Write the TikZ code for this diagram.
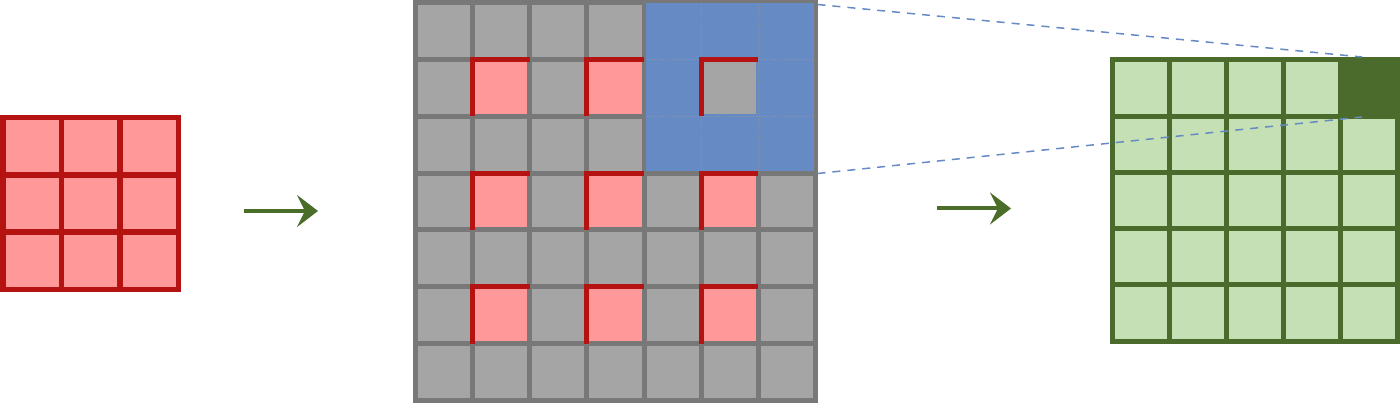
\documentclass[tikz,border=0pt]{standalone}
\usetikzlibrary{arrows.meta}
\definecolor{rbord}{RGB}{181,18,18}
\definecolor{rfill}{RGB}{255,153,153}
\definecolor{gbord}{RGB}{120,120,120}
\definecolor{gfill}{RGB}{165,165,165}
\definecolor{grbord}{RGB}{74,107,43}
\definecolor{grfill}{RGB}{197,224,180}
\definecolor{bfill}{RGB}{101,138,196}
\definecolor{arr}{RGB}{74,110,42}
\begin{document}
\begin{tikzpicture}[x=1pt,y=-1pt,
 cell/.style={draw, line width=5pt, inner sep=0pt, outer sep=0pt, anchor=north west},
 redcell/.style={cell, draw=rbord, fill=rfill, line width=5.5pt, minimum width=58.7pt, minimum height=57.3pt},
 greycell/.style={cell, draw=gbord, fill=gfill, minimum width=57.14pt, minimum height=56.86pt},
 pinkcell/.style={greycell, fill=rfill},
 greencell/.style={cell, draw=grbord, fill=grfill, minimum width=57pt, minimum height=56.3pt},
 redL/.style={draw=rbord, line width=5pt, line join=miter},
 region/.style={fill=bfill, draw=none, inner sep=0pt, outer sep=0pt, anchor=north west},
 dotline/.style={draw=gbord!80, dotted, line width=0.8pt},
 dashline/.style={draw=bfill, line width=1.5pt, dash pattern=on 8pt off 7pt},
 arrowline/.style={draw=arr, line width=4pt, -{Stealth[length=21pt,width=32pt,inset=8pt]}}
]
\useasboundingbox (0,0) rectangle (1400,403);
% left red grid
\foreach \i in {0,1,2}{\foreach \j in {0,1,2}{
  \node[redcell] (r-\i-\j) at ({2.75+\i*58.6},{117.75+\j*57.2}) {};
}}
% middle grey grid
\foreach \i in {0,...,6}{\foreach \j in {0,...,6}{
  \node[greycell] (m-\i-\j) at ({415.5+\i*57.14},{2.5+\j*56.86}) {};
}}
\foreach \i in {1,3,5}{\foreach \j in {1,3,5}{
  \node[pinkcell] (p-\i-\j) at ({415.5+\i*57.14},{2.5+\j*56.86}) {};
}}
\foreach \i in {1,3,5}{\foreach \j in {1,3,5}{
  \draw[redL] (p-\i-\j.south west) -- (p-\i-\j.north west) -- (p-\i-\j.north east);
}}
% blue window
\node[region, minimum width=167.5pt, minimum height=168pt] (win) at (646,3.5) {};
\draw[dotline] (701.2,4) -- (701.2,171);
\draw[dotline] (758.3,4) -- (758.3,171);
\draw[dotline] (646.5,59.36) -- (813,59.36);
\draw[dotline] (646.5,116.2) -- (813,116.2);
\node[cell, draw=none, fill=none, minimum width=57.14pt, minimum height=56.86pt] (ctr) at (701.2,59.36) {};
\fill[gfill] (703.7,61.86) rectangle (755.8,113.7);
\draw[redL] (ctr.south west) -- (ctr.north west) -- (ctr.north east);
% right green grid
\foreach \i in {0,...,4}{\foreach \j in {0,...,4}{
  \node[greencell] (g-\i-\j) at ({1112.5+\i*57},{59.8+\j*56.3}) {};
}}
\node[greencell, fill=grbord] (g-4-0) at ({1112.5+4*57},59.8) {};
% arrows
\coordinate (a1s) at (244,211);
\coordinate (a1e) at (318,211);
\coordinate (a2s) at (937,208.5);
\coordinate (a2e) at (1011,208.5);
\draw[arrowline] (a1s) -- (a1e);
\draw[arrowline] (a2s) -- (a2e);
% dashed projection lines
\coordinate (t1) at (1362,57);
\coordinate (t2) at (1362,117);
\draw[dashline] ([xshift=4pt,yshift=-1pt]win.north east) -- (t1);
\draw[dashline] ([xshift=4pt,yshift=-2pt]win.south east) -- (t2);
\end{tikzpicture}
\end{document}
